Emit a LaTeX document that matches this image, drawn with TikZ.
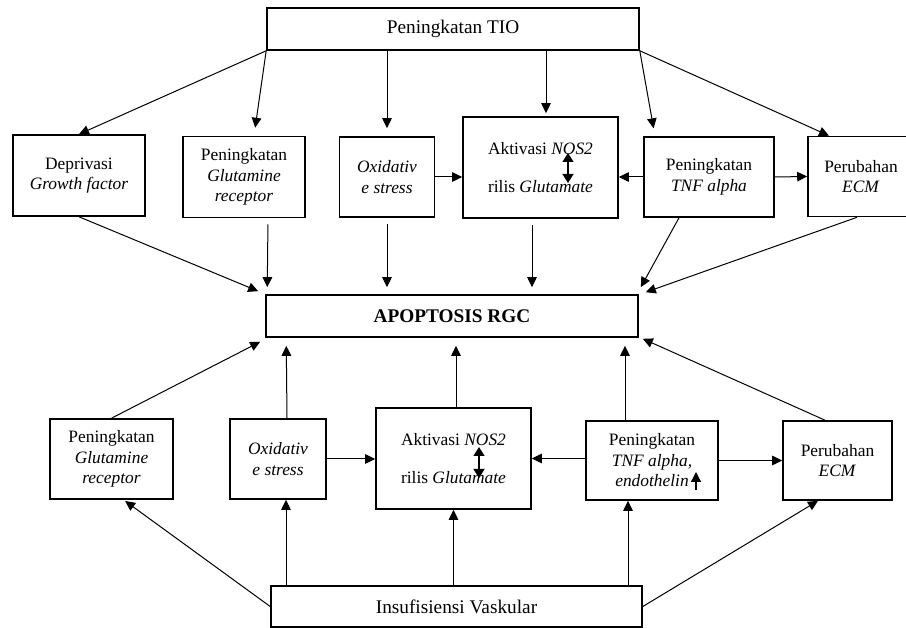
\documentclass[tikz,border=0pt]{standalone}
\usepackage{fontspec}
\setmainfont{Liberation Serif}
\usetikzlibrary{arrows.meta}

\begin{document}
\begin{tikzpicture}[x=1pt,y=-1pt]
        \useasboundingbox (0,0) rectangle (906,628);
        \begin{scope}[every node/.style={draw,line width=1.6pt,align=center,inner sep=0pt,font=\fontsize{17.4}{20.5}\selectfont}]
            \node[minimum width=372pt,minimum height=42pt,font=\fontsize{19.3}{22}\selectfont] (tio) at (453,29) {Peningkatan TIO};
            \node[minimum width=132pt,minimum height=81pt] (dep) at (79,175.5) {Deprivasi\\\textit{Growth factor}};
            \node[minimum width=122pt,minimum height=81pt] (glu1) at (244,177) {Peningkatan\\\textit{Glutamine}\\\textit{receptor}};
            \node[minimum width=95pt,minimum height=80pt] (oxi1) at (387,177) {\textit{Oxidativ}\\\textit{e stress}};
            \node[minimum width=155pt,minimum height=101pt] (act1) at (540.5,167.5) {Aktivasi \textit{NOS2}\\[18pt]rilis \textit{Glutamate}};
            \node[minimum width=130pt,minimum height=80pt] (tnf1) at (709,177) {Peningkatan\\\textit{TNF alpha}};
            \node[minimum width=106pt,minimum height=80pt] (ecm1) at (861,176.5) {Perubahan\\\textit{ECM}};
            \node[minimum width=372pt,minimum height=42pt,font=\fontsize{19.3}{22}\selectfont\bfseries] (apo) at (452,316) {APOPTOSIS RGC};
            \node[minimum width=123pt,minimum height=80pt] (glu2) at (111.5,459) {Peningkatan\\\textit{Glutamine}\\\textit{receptor}};
            \node[minimum width=96pt,minimum height=80pt] (oxi2) at (278,459) {\textit{Oxidativ}\\\textit{e stress}};
            \node[minimum width=155pt,minimum height=101pt] (act2) at (453.5,458.5) {Aktivasi \textit{NOS2}\\[18pt]rilis \textit{Glutamate}};
            \node[minimum width=132pt,minimum height=79pt] (tnf2) at (652,460.5) {Peningkatan\\\textit{TNF alpha,}\\\textit{endothelin}};
            \node[minimum width=109pt,minimum height=79pt] (ecm2) at (837.5,460.5) {Perubahan\\\textit{ECM}};
            \node[minimum width=371pt,minimum height=41pt,font=\fontsize{19.3}{22}\selectfont] (ins) at (456.5,606.5) {Insufisiensi Vaskular};
        \end{scope}
        \begin{scope}[every edge/.style={draw,line width=1pt,-{Triangle[length=10pt,width=9.5pt]}}]
            \path
                (tio.south west) edge (dep.north)
                (tio.south west) edge [shorten >=8pt] ([xshift=10pt]glu1.north)
                (tio.south -| oxi1.north) edge [shorten >=8pt] (oxi1.north)
                ([xshift=93pt]tio.south) edge [shorten >=3pt] ([xshift=5.5pt]act1.north)
                (tio.south east) edge [shorten >=8pt] ([xshift=-54pt]tnf1.north)
                (tio.south east) edge ([xshift=-32pt]ecm1.north)
                (dep.south) edge ([xshift=-7pt,yshift=3pt]apo.north west)
                ([xshift=24pt]glu1.south) edge [shorten <=6pt,shorten >=7pt] ([xshift=2pt]apo.north west)
                (oxi1.south) edge [shorten <=6pt,shorten >=7pt] (oxi1.south |- apo.north)
                ([xshift=-8.5pt]act1.south) edge [shorten <=6pt,shorten >=7pt] ([xshift=80pt]apo.north)
                ([xshift=-30pt]tnf1.south) edge ([xshift=2pt,yshift=7pt]apo.north east)
                ([xshift=-4pt]ecm1.south) edge ([xshift=7pt,yshift=2pt]apo.north east)
                (oxi1.east) edge (oxi1.east -| act1.west)
                (tnf1.west) edge (tnf1.west -| act1.east)
                (tnf1.east) edge (ecm1.west)
                (glu2.north) edge ([xshift=-5pt,yshift=-4pt]apo.south west)
                ([xshift=9pt]oxi2.north) edge [shorten >=8pt] ([xshift=21pt]apo.south west)
                ([xshift=2.5pt]act2.north) edge [shorten >=8pt] ([xshift=4pt]apo.south)
                ([xshift=-27pt]tnf2.north) edge [shorten >=8pt] ([xshift=173pt]apo.south)
                ([xshift=-12.5pt]ecm2.north) edge ([xshift=4pt,yshift=-1pt]apo.south east)
                (oxi2.east) edge (oxi2.east -| act2.west)
                (act2.east -| tnf2.west) edge (act2.east)
                (tnf2.east) edge (ecm2.west)
                (ins.west) edge [shorten >=2pt] ([xshift=12pt]glu2.south)
                ([xshift=-170.5pt]ins.north) edge ([xshift=8pt]oxi2.south)
                (act2.south |- ins.north) edge (act2.south)
                ([xshift=171.5pt]ins.north) edge ([xshift=-24pt]tnf2.south)
                (ins.east) edge ([xshift=-19.5pt]ecm2.south);
        \end{scope}
        \begin{scope}[line width=1.3pt]
            \draw[{Triangle[length=9pt,width=11pt]}-{Triangle[length=9pt,width=11pt]}] ([xshift=27.5pt,yshift=14.5pt]act1.center) -- ([xshift=27.5pt,yshift=-15.5pt]act1.center);
            \draw[{Triangle[length=9pt,width=11pt]}-{Triangle[length=9pt,width=11pt]}] ([xshift=25.5pt,yshift=11.5pt]act2.center) -- ([xshift=25.5pt,yshift=-19.5pt]act2.center);
            \draw[-{Triangle[length=10pt,width=10pt]}] ([xshift=44pt,yshift=-29.5pt]tnf2.center) -- ([xshift=44pt,yshift=-11.5pt]tnf2.center);
        \end{scope}
    \end{tikzpicture}
\end{document}
